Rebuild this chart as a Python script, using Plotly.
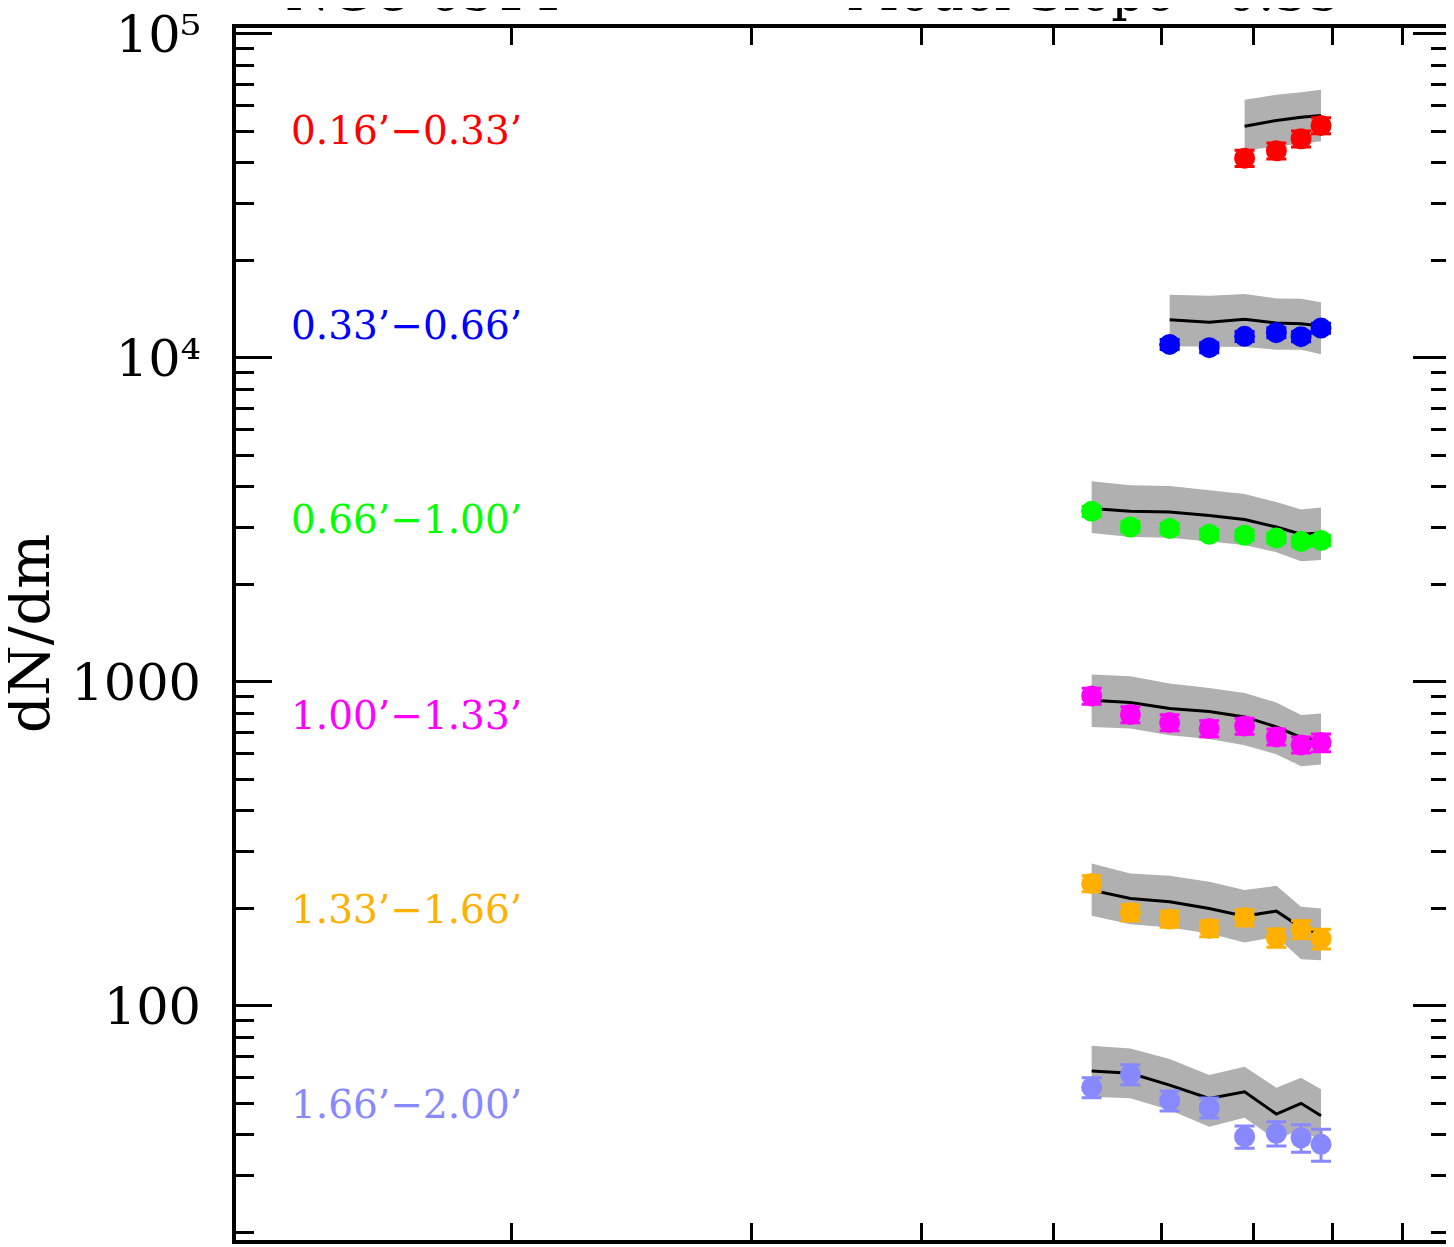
import plotly.graph_objects as go

# ---------------- data ----------------
x_all = [5.33, 5.69, 6.08, 6.50, 6.90, 7.28, 7.59, 7.85]

labels = ["0.16’−0.33’", "0.33’−0.66’", "0.66’−1.00’", "1.00’−1.33’", "1.33’−1.66’", "1.66’−2.00’"]
colors = ["#FF0000", "#0000FF", "#00FF00", "#FF00FF", "#FFB000", "#8888FF"]

red_x = [6.90, 7.28, 7.59, 7.85]
red_y = [41330, 43570, 47440, 52130]
red_err = [2350, 2480, 2700, 2960]
red_model = [51880, 54030, 55310, 55990]
red_hi = [62580, 64840, 66050, 67200]
red_lo = [43650, 44900, 45770, 46640]

blue_x = [6.08, 6.50, 6.90, 7.28, 7.59, 7.85]
blue_y = [11004, 10752, 11651, 11959, 11627, 12357]
blue_err = [391, 382, 414, 425, 413, 439]
blue_model = [13117, 12870, 13145, 12805, 12751, 12535]
blue_hi = [15665, 15557, 15734, 15260, 15228, 14834]
blue_lo = [10852, 10797, 10797, 10600, 10600, 10252]

green_x = x_all
green_y = [3361, 3007, 2974, 2855, 2835, 2781, 2711, 2731]
green_err = [119, 107, 106, 101, 101, 99, 96, 97]
green_model = [3426, 3361, 3345, 3261, 3170, 3007, 2855, 2881]
green_hi = [4160, 4043, 4023, 3902, 3801, 3591, 3402, 3451]
green_lo = [2881, 2800, 2788, 2716, 2646, 2512, 2357, 2379]

mag_x = x_all
mag_y = [905.3, 793.2, 749.5, 718.3, 731.6, 676.7, 639.3, 650.3]
mag_err = [51.4, 45.1, 42.6, 40.8, 41.5, 38.4, 36.3, 41.0]
mag_model = [878.2, 864.0, 827.8, 810.5, 779.8, 726.4, 673.8, 660.9]
mag_hi = [1054, 1041, 988.8, 958.4, 925.0, 864.0, 791.0, 799.0]
mag_lo = [726.4, 718.3, 684.8, 667.1, 638.0, 598.4, 549.5, 556.3]

orange_x = x_all
orange_y = [238.9, 194.4, 185.4, 173.5, 187.6, 162.3, 172.3, 161.2]
orange_err = [13.6, 11.0, 10.5, 9.9, 10.7, 10.4, 11.0, 11.4]
orange_model = [227.8, 214.7, 209.6, 200.0, 189.4, 196.2, 174.7, 166.6]
orange_hi = [275.4, 256.4, 252.1, 241.6, 227.8, 234.9, 202.3, 200.0]
orange_lo = [189.8, 178.9, 174.7, 167.5, 157.1, 163.5, 139.5, 138.5]

lb_x = x_all
lb_y = [56.09, 61.52, 51.02, 48.53, 39.50, 40.46, 39.22, 37.42]
lb_err = [3.98, 4.37, 3.62, 3.45, 3.09, 3.45, 3.82, 4.25]
lb_model = [62.98, 61.96, 57.02, 51.88, 54.37, 46.41, 50.07, 45.85]
lb_hi = [75.39, 73.98, 68.59, 61.21, 64.94, 55.94, 60.04, 55.31]
lb_lo = [52.48, 51.88, 47.75, 42.41, 45.20, 38.59, 41.81, 38.20]

series = [
    (red_x, red_y, red_err, red_model, red_hi, red_lo),
    (blue_x, blue_y, blue_err, blue_model, blue_hi, blue_lo),
    (green_x, green_y, green_err, green_model, green_hi, green_lo),
    (mag_x, mag_y, mag_err, mag_model, mag_hi, mag_lo),
    (orange_x, orange_y, orange_err, orange_model, orange_hi, orange_lo),
    (lb_x, lb_y, lb_err, lb_model, lb_hi, lb_lo),
]

title_left = "NGC 6514"
title_right = "Model Slope\u00a0\u00a0\u00a00.35"

y_major = [100, 1000, 10000, 100000]
y_major_text = ["100", "1000", "10⁴", "10⁵"]
y_minor = [m * d for d in [10, 100, 1000, 10000] for m in range(2, 10)]
x_ticks = [2, 3, 4, 5, 6, 7, 8, 9]

# ---------------- figure ----------------
FONT = "DejaVu Serif"
fig = go.Figure()

for (sx, sy, se, sm, shi, slo), col in zip(series, colors):
    fig.add_trace(go.Scatter(x=sx, y=slo, mode="lines", line=dict(width=0, color="#B0B0B0"),
                             showlegend=False, hoverinfo="skip"))
    fig.add_trace(go.Scatter(x=sx, y=shi, mode="lines", line=dict(width=0, color="#B0B0B0"),
                             fill="tonexty", fillcolor="#B0B0B0", showlegend=False, hoverinfo="skip"))
    fig.add_trace(go.Scatter(x=sx, y=sm, mode="lines", line=dict(width=3, color="black"),
                             showlegend=False))
    fig.add_trace(go.Scatter(x=sx, y=sy, mode="markers",
                             marker=dict(size=21, color=col, line=dict(width=0)),
                             error_y=dict(type="data", array=se, color=col, thickness=3, width=10),
                             showlegend=False))

# page body has an 8px offset; plot area aimed at page x 236..1449, y 27.5..1240
OFF = 8
L, R, T, B = 236 - OFF, 1449 - OFF, 27.5 - OFF, 1240 - OFF
W, H = 1454, 1247


def px(xpage):
    return (xpage - 236) / (1449 - 236)


def py(ypage):
    return (1240 - ypage) / (1240 - 27.5)


label_y = [130, 325, 519, 715, 909, 1104]
annotations = []
for lab, col, yp in zip(labels, colors, label_y):
    annotations.append(dict(text=lab, xref="paper", yref="paper", x=px(289), y=py(yp),
                            xanchor="left", yanchor="middle", showarrow=False,
                            font=dict(family=FONT, size=39, color=col)))

annotations.append(dict(text=title_left, xref="paper", yref="paper", x=px(283), y=py(-9),
                        xanchor="left", yanchor="middle", showarrow=False,
                        font=dict(family=FONT, size=52, color="black")))
annotations.append(dict(text=title_right, xref="paper", yref="paper", x=px(844), y=py(-9),
                        xanchor="left", yanchor="middle", showarrow=False,
                        font=dict(family=FONT, size=52, color="black")))
annotations.append(dict(text="dN/dm", xref="paper", yref="paper", x=px(29), y=py(633),
                        xanchor="center", yanchor="middle", textangle=-90, showarrow=False,
                        font=dict(family=FONT, size=58, color="black")))

fig.update_layout(
    width=W, height=H,
    margin=dict(l=L, r=W - R, t=T, b=H - B, pad=0, autoexpand=False),
    paper_bgcolor="white", plot_bgcolor="white",
    showlegend=False,
    annotations=annotations,
    xaxis=dict(type="log", range=[0.0994, 0.9887], showgrid=False, zeroline=False,
               automargin=False,
               showline=True, linecolor="black", linewidth=3.5, mirror="ticks",
               ticks="inside", ticklen=17, tickwidth=2.5, tickcolor="black",
               tickmode="array", tickvals=x_ticks, showticklabels=False),
    yaxis=dict(type="log", range=[1.2779, 5.0179], showgrid=False, zeroline=False,
               automargin=False,
               showline=True, linecolor="black", linewidth=3.5, mirror="ticks",
               ticks="inside", ticklen=36, tickwidth=3, tickcolor="black",
               tickmode="array", tickvals=y_major, ticktext=y_major_text,
               ticklabelstandoff=21, ticklabeloverflow="allow",
               tickfont=dict(family=FONT, size=51, color="black"),
               minor=dict(tickmode="array", tickvals=y_minor, ticks="inside", ticklen=18,
                          tickwidth=3, tickcolor="black", showgrid=False)),
)

fig.write_html("out.html")
